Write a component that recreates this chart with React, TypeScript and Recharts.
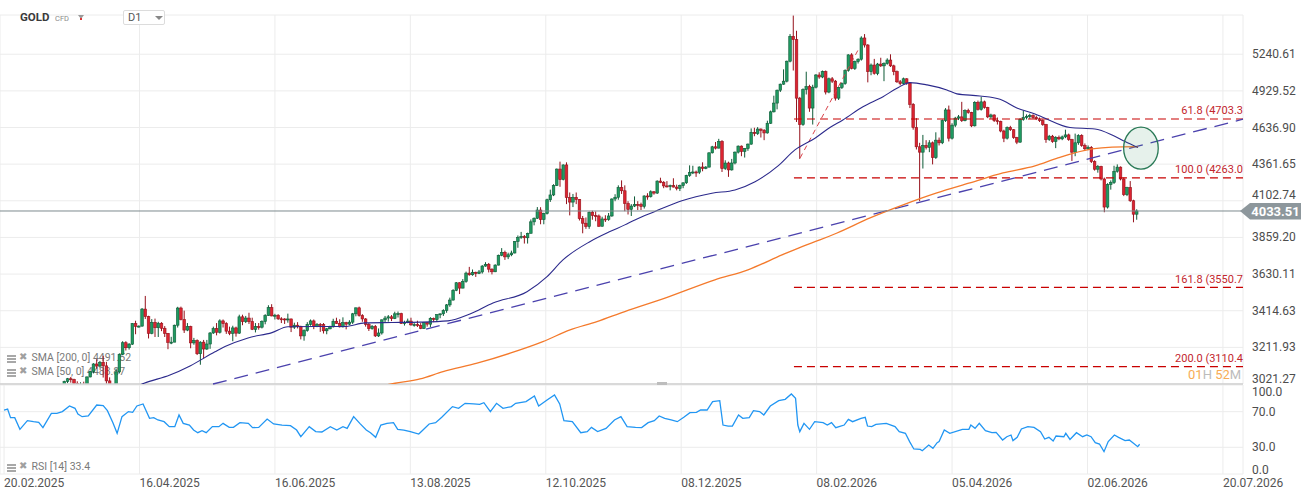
import React from "react";
import {
  ComposedChart, LineChart, Bar, Line, XAxis, YAxis, CartesianGrid,
  ReferenceLine, ReferenceDot,
} from "recharts";

// x axis = trading-day index (0 = 20.02.2025)
const X_DOMAIN: [number, number] = [-1.85, 381.8];
const dateTicks = [-0.6, 41.2, 83.0, 124.8, 166.6, 208.4, 250.2, 292.0, 333.8, 375.6];
const dateLabels = [
  "20.02.2025", "16.04.2025", "16.06.2025", "13.08.2025", "12.10.2025",
  "08.12.2025", "08.02.2026", "05.04.2026", "02.06.2026", "20.07.2026",
];

const priceTicks = [3021.27, 3211.93, 3414.63, 3630.11, 3859.2, 4102.74, 4361.65, 4636.9, 4929.52, 5240.61];
const PRICE_DOMAIN: [number, number] = [3021.27, 5595.5];
const rsiTicks = [0, 30, 70, 100];
const lastPrice = 4033.51;

const fibLevels = [4703.32, 4263.0, 3550.7, 3110.4];
const fibLabels = ["61.8 (4703.3", "100.0 (4263.0", "161.8 (3550.7", "200.0 (3110.4"];

// daily candles [open, high, low, close]
const ohlc: [number, number, number, number][] = [
  [2935,2955,2925,2940],[2940,2945,2920,2936],
  [2936,2956,2930,2952],[2952,2955,2890,2915],[2915,2930,2905,2916],[2916,2920,2870,2876],[2876,2880,2832,2858],
  [2858,2900,2855,2893],[2893,2928,2880,2918],[2918,2930,2895,2920],[2920,2925,2895,2911],[2911,2930,2896,2910],
  [2910,2915,2880,2889],[2889,2922,2880,2916],[2916,2940,2905,2934],[2934,2990,2930,2988],[2988,3005,2975,2984],
  [2984,3003,2980,3001],[3001,3038,2998,3034],[3034,3052,3026,3048],[3048,3057,3028,3044],[3044,3048,2999,3023],
  [3023,3035,3002,3010],[3010,3030,3005,3019],[3019,3033,3012,3018],[3018,3060,3015,3057],[3057,3087,3055,3085],
  [3085,3128,3075,3124],[3124,3149,3100,3113],[3113,3140,3105,3133],[3133,3167,3054,3114],[3114,3135,3015,3037],
  [3037,3055,2957,2982],[2982,3020,2970,2983],[2983,3100,2975,3083],[3083,3180,3075,3175],[3175,3245,3170,3237],
  [3237,3245,3195,3210],[3210,3235,3200,3229],[3229,3345,3225,3342],[3342,3358,3283,3326],[3326,3332,3320,3328],
  [3328,3430,3325,3424],[3424,3500,3368,3381],[3381,3386,3260,3288],[3288,3367,3283,3349],[3349,3370,3268,3319],
  [3319,3352,3268,3344],[3344,3350,3300,3316],[3316,3328,3268,3288],[3288,3290,3202,3239],[3239,3269,3229,3240],
  [3240,3336,3240,3333],[3333,3437,3320,3430],[3430,3438,3360,3365],[3365,3415,3290,3306],[3306,3345,3300,3325],
  [3325,3330,3207,3236],[3236,3263,3226,3249],[3249,3255,3171,3178],[3178,3245,3120,3240],[3240,3252,3154,3203],
  [3203,3252,3198,3230],[3230,3295,3204,3290],[3290,3325,3285,3314],[3314,3345,3277,3294],[3294,3366,3287,3357],
  [3357,3365,3320,3342],[3342,3350,3285,3300],[3300,3325,3278,3288],[3288,3330,3245,3318],[3318,3325,3270,3289],
  [3289,3392,3285,3380],[3380,3392,3333,3353],[3353,3385,3345,3373],[3373,3403,3340,3353],[3353,3375,3306,3310],
  [3310,3345,3293,3325],[3325,3345,3308,3322],[3322,3360,3315,3354],[3354,3395,3338,3387],[3387,3446,3385,3432],
  [3432,3452,3383,3385],[3385,3397,3365,3389],[3389,3395,3362,3369],[3369,3378,3345,3368],[3368,3372,3340,3366],
  [3366,3398,3347,3368],[3368,3370,3295,3322],[3322,3347,3312,3333],[3333,3350,3315,3327],[3327,3330,3255,3274],
  [3274,3310,3248,3303],[3303,3350,3297,3338],[3338,3365,3330,3357],[3357,3365,3311,3326],[3326,3345,3322,3337],
  [3337,3345,3296,3336],[3336,3345,3287,3302],[3302,3317,3283,3313],[3313,3330,3310,3324],[3324,3369,3320,3355],
  [3355,3375,3340,3343],[3343,3366,3320,3324],[3324,3377,3320,3347],[3347,3352,3310,3339],[3339,3361,3333,3350],
  [3350,3402,3340,3397],[3397,3433,3383,3431],[3431,3438,3381,3387],[3387,3395,3352,3368],[3368,3373,3325,3337],
  [3337,3345,3301,3314],[3314,3334,3308,3326],[3326,3334,3268,3274],[3274,3315,3268,3290],[3290,3365,3281,3363],
  [3363,3385,3346,3373],[3373,3390,3353,3380],[3380,3390,3356,3370],[3370,3409,3367,3397],[3397,3410,3376,3398],
  [3398,3403,3341,3342],[3342,3358,3331,3348],[3348,3370,3344,3356],[3356,3375,3330,3335],[3335,3345,3325,3336],
  [3336,3358,3323,3332],[3332,3345,3311,3315],[3315,3350,3312,3348],[3348,3351,3325,3339],[3339,3378,3322,3371],
  [3371,3376,3350,3365],[3365,3394,3352,3393],[3393,3398,3372,3397],[3397,3423,3385,3416],[3416,3453,3403,3448],
  [3448,3490,3437,3476],[3476,3540,3473,3533],[3533,3582,3528,3578],[3578,3580,3511,3546],[3546,3600,3545,3586],
  [3586,3645,3578,3636],[3636,3674,3620,3626],[3626,3658,3620,3641],[3641,3645,3613,3634],[3634,3655,3630,3643],
  [3643,3685,3633,3679],[3679,3703,3675,3690],[3690,3698,3640,3660],[3660,3665,3628,3644],[3644,3690,3642,3685],
  [3685,3750,3683,3746],[3746,3791,3740,3764],[3764,3775,3717,3736],[3736,3762,3722,3749],[3749,3775,3740,3760],
  [3760,3835,3758,3833],[3833,3872,3793,3859],[3859,3895,3850,3866],[3866,3875,3820,3857],[3857,3890,3820,3886],
  [3886,3977,3885,3961],[3961,3990,3938,3985],[3985,4060,3980,4040],[4040,4059,3945,3976],[3976,4022,3945,4017],
  [4017,4117,4010,4110],[4110,4180,4095,4143],[4143,4218,4135,4209],[4209,4330,4205,4326],[4326,4380,4200,4251],
  [4251,4360,4245,4356],[4356,4375,4080,4125],[4125,4160,4004,4094],[4094,4150,4060,4126],[4126,4160,4080,4112],
  [4112,4115,3970,3982],[3982,4000,3886,3952],[3952,3990,3915,3931],[3931,4030,3915,4025],[4025,4035,3975,4003],
  [4003,4030,3965,4000],[4000,4010,3928,3932],[3932,3995,3930,3980],[3980,4005,3960,3977],[3977,4020,3968,4000],
  [4000,4120,3995,4115],[4115,4148,4100,4127],[4127,4210,4110,4195],[4195,4245,4150,4172],[4172,4210,4032,4084],
  [4084,4100,4010,4045],[4045,4080,4000,4067],[4067,4133,4060,4078],[4078,4100,4040,4077],[4077,4090,4040,4065],
  [4065,4140,4050,4136],[4136,4155,4110,4131],[4131,4175,4125,4165],[4165,4170,4145,4156],[4156,4245,4150,4240],
  [4240,4264,4225,4231],[4231,4240,4190,4206],[4206,4240,4195,4204],[4204,4215,4175,4208],[4208,4260,4195,4198],
  [4198,4215,4175,4189],[4189,4215,4170,4208],[4208,4230,4190,4228],[4228,4285,4220,4280],[4280,4353,4270,4300],
  [4300,4350,4290,4305],[4305,4315,4270,4303],[4303,4345,4290,4341],[4341,4375,4310,4331],[4331,4348,4325,4340],
  [4340,4448,4338,4445],[4445,4497,4440,4490],[4490,4526,4470,4480],[4480,4550,4478,4530],
  [4530,4540,4305,4330],[4330,4390,4320,4370],[4370,4380,4270,4320],[4320,4400,4315,4370],
  [4370,4455,4360,4450],[4450,4500,4440,4495],[4495,4500,4420,4455],[4455,4480,4410,4478],[4478,4515,4460,4510],
  [4510,4630,4505,4600],[4600,4635,4570,4590],[4590,4640,4580,4625],[4625,4630,4560,4615],[4615,4625,4540,4595],
  [4595,4690,4590,4670],[4670,4770,4665,4760],[4760,4890,4755,4830],[4830,4940,4780,4935],[4935,4990,4920,4985],
  [4985,5110,4980,5010],[5010,5185,5000,5180],[5180,5420,5170,5400],[5400,5590,5100,5370],[5370,5450,4680,4870],
  [4870,4880,4400,4660],[4660,4950,4650,4940],[4940,5090,4900,4965],[4965,4980,4760,4790],[4790,4980,4660,4960],
  [4960,5070,4950,5062],[5062,5085,5030,5045],[5045,5100,5035,5090],[5090,5100,4900,4920],[4920,5040,4910,5030],
  [5030,5045,4995,5010],[5010,5020,4850,4870],[4870,4965,4855,4958],[4958,5000,4945,4990],[4990,5110,4980,5100],
  [5100,5240,5090,5235],[5235,5250,5110,5118],[5118,5185,5105,5177],[5177,5205,5160,5197],[5197,5400,5185,5385],
  [5385,5420,5300,5322],[5322,5330,5000,5090],[5090,5160,5060,5147],[5147,5200,5065,5075],[5075,5165,5060,5155],
  [5155,5210,5130,5140],[5140,5170,5010,5160],[5160,5205,5150,5190],[5190,5240,5130,5140],[5140,5150,5060,5090],
  [5090,5100,4995,5005],[5005,5020,4975,4990],[4990,5040,4985,5030],[5030,5035,4980,4995],[4995,5000,4790,4820],
  [4820,4830,4620,4637],[4637,4710,4470,4490],[4490,4520,4100,4450],[4450,4580,4330,4500],[4500,4540,4470,4485],
  [4485,4540,4450,4520],[4520,4530,4360,4410],[4410,4600,4400,4540],[4540,4560,4500,4520],[4520,4700,4510,4690],
  [4690,4790,4680,4775],[4775,4810,4530,4555],[4555,4670,4545,4655],[4655,4720,4640,4710],[4710,4735,4695,4720],
  [4720,4840,4680,4690],[4690,4780,4685,4770],[4770,4785,4745,4755],[4755,4760,4640,4650],[4650,4845,4645,4835],
  [4835,4850,4770,4780],[4780,4880,4770,4840],[4840,4850,4785,4795],[4795,4800,4710,4720],[4720,4745,4705,4735],
  [4735,4740,4680,4690],[4690,4715,4660,4685],[4685,4690,4600,4610],[4610,4620,4525,4555],[4555,4645,4545,4637],
  [4637,4650,4610,4620],[4620,4625,4550,4560],[4560,4565,4510,4525],[4525,4710,4520,4700],[4700,4770,4690,4715],
  [4715,4740,4700,4725],[4725,4745,4705,4730],[4730,4740,4705,4715],[4715,4730,4695,4705],[4705,4715,4680,4690],
  [4690,4700,4650,4660],[4660,4665,4520,4545],[4545,4580,4535,4570],[4570,4580,4520,4530],[4530,4570,4480,4560],
  [4560,4575,4540,4550],[4550,4575,4540,4565],[4565,4620,4555,4580],[4580,4590,4535,4545],[4545,4550,4385,4450],
  [4450,4590,4420,4520],[4520,4585,4505,4575],[4575,4585,4490,4500],[4500,4515,4465,4475],[4475,4500,4465,4485],
  [4485,4495,4370,4380],[4380,4390,4315,4325],[4325,4355,4300,4345],[4345,4350,4245,4255],[4255,4265,4025,4060],
  [4060,4225,4050,4215],[4215,4245,4180,4230],[4230,4350,4220,4310],[4310,4360,4300,4340],[4340,4345,4245,4255],
  [4255,4265,4135,4145],[4145,4200,4135,4195],[4195,4240,4095,4103],[4103,4110,3958,4012],[4012,4045,3975,4033.51],
];

// moving averages (bar index, value)
const sma50Idx = [34.9, 42.6, 50.6, 56.8, 64.5, 67.6, 74.7, 82.1, 87.0, 95.4, 104.6, 110.8, 119.1, 127.8, 136.4, 143.2, 150.3, 160.8, 167.0, 171.9, 180.2, 186.4, 191.0, 194.1, 200.3, 208.6, 217.9, 225.0, 231.2, 238.3, 243.5, 249.7, 254.3, 258.3, 264.5, 270.7, 275.0, 279.0, 284.3, 290.4, 293.5, 300.6, 306.8, 312.0, 317.6, 320.7, 328.4, 336.1, 341.4, 345.4, 349.4];
const sma50Val = [2966, 3025, 3067, 3114, 3188, 3216, 3263, 3292, 3324, 3326, 3326, 3346, 3348, 3350, 3357, 3396, 3459, 3525, 3615, 3717, 3832, 3897, 3941, 3974, 4030, 4103, 4155, 4178, 4236, 4349, 4467, 4555, 4637, 4696, 4801, 4882, 4951, 4998, 4979, 4937, 4905, 4888, 4861, 4791, 4743, 4709, 4637, 4626, 4580, 4529, 4483.87];
const sma200Idx = [100, 120.1, 127.8, 134.9, 145.4, 155.6, 165.7, 174.1, 182.4, 191.0, 203.4, 218.8, 229.0, 239.5, 245.7, 251.2, 256.5, 266.7, 276.9, 287.3, 297.5, 307.7, 317.6, 324.7, 335.2, 341.4, 349.4];
const sma200Val = [2965, 3025, 3047, 3084, 3128, 3181, 3243, 3307, 3353, 3410, 3487, 3595, 3656, 3748, 3801, 3843, 3888, 3987, 4075, 4157, 4227, 4298, 4349, 4407, 4474, 4488, 4491.52];

// RSI(14)
const rsiIdx = [-0.6, 0.5, 1.4, 2.7, 4.3, 6.6, 8.5, 10.1, 11.4, 14.0, 15.7, 17.4, 19.6, 21.3, 22.2, 23.5, 25.4, 28.0, 30.0, 31.3, 33.0, 34.3, 35.8, 37.8, 39.1, 40.4, 42.3, 44.3, 45.6, 46.9, 48.8, 50.4, 52.1, 53.4, 54.7, 56.6, 57.9, 59.2, 60.5, 61.8, 63.7, 65.7, 67.0, 68.9, 70.2, 72.2, 74.8, 76.1, 78.0, 80.6, 82.6, 85.2, 87.8, 89.7, 91.0, 93.6, 95.6, 97.5, 100.1, 102.1, 104.0, 105.3, 107.3, 109.2, 111.2, 112.5, 114.1, 115.7, 117.6, 119.6, 120.9, 122.8, 124.8, 127.4, 128.7, 130.6, 132.6, 134.5, 137.8, 139.7, 141.7, 144.3, 146.2, 147.5, 149.5, 151.4, 153.4, 156.0, 157.3, 160.5, 163.1, 164.4, 167.0, 169.3, 170.9, 172.2, 174.8, 177.4, 179.4, 180.7, 182.6, 185.2, 187.8, 189.8, 191.7, 194.3, 196.2, 198.2, 200.1, 201.6, 203.3, 205.3, 207.2, 209.2, 211.1, 213.1, 214.4, 216.4, 218.1, 220.3, 221.3, 222.9, 224.2, 226.1, 227.4, 229.4, 230.7, 232.6, 233.9, 235.9, 238.5, 240.5, 242.4, 243.7, 244.4, 245.0, 246.3, 248.0, 249.6, 252.2, 253.5, 254.8, 256.1, 258.7, 260.0, 261.3, 263.9, 265.2, 265.9, 267.2, 268.5, 271.7, 274.4, 275.7, 277.6, 278.9, 280.2, 282.2, 282.8, 284.8, 286.1, 287.4, 288.0, 289.6, 291.3, 295.2, 297.2, 297.8, 299.1, 300.4, 302.3, 304.3, 305.6, 307.6, 308.9, 310.2, 310.8, 312.1, 313.4, 315.4, 317.3, 319.3, 320.6, 321.9, 323.2, 324.1, 326.5, 327.1, 328.4, 330.4, 332.3, 333.6, 334.9, 336.2, 337.5, 338.9, 340.2, 342.1, 343.4, 345.4, 346.7, 348.0, 349.3, 349.9];
const rsiVal = [71.9, 73.0, 63.3, 63.3, 50.2, 60.0, 58.8, 58.1, 52.1, 68.2, 68.2, 70.1, 76.4, 73.8, 67.4, 64.4, 65.2, 77.5, 76.8, 71.2, 57.7, 45.7, 64.4, 70.1, 69.3, 76.4, 78.7, 62.5, 63.3, 60.7, 58.8, 53.2, 53.2, 66.3, 56.9, 55.0, 49.4, 46.4, 48.7, 46.4, 53.2, 53.2, 56.9, 52.4, 52.4, 57.7, 56.9, 52.1, 52.4, 61.8, 56.2, 55.0, 54.3, 49.4, 41.9, 53.2, 47.6, 47.2, 53.2, 49.4, 53.2, 51.3, 64.4, 56.9, 49.4, 46.4, 41.2, 55.0, 56.9, 57.7, 50.2, 49.4, 47.6, 44.9, 49.4, 56.2, 57.7, 63.7, 75.7, 73.8, 79.4, 78.7, 78.3, 80.1, 70.1, 79.4, 73.8, 75.7, 79.4, 81.3, 87.6, 76.4, 83.1, 88.8, 78.7, 60.0, 58.8, 46.4, 47.6, 52.4, 47.6, 51.3, 60.7, 64.4, 53.2, 52.4, 52.1, 57.7, 60.0, 65.2, 62.5, 60.7, 58.8, 63.7, 68.9, 69.3, 71.9, 71.9, 81.3, 82.4, 55.0, 53.9, 53.9, 66.3, 62.5, 63.3, 71.2, 70.1, 66.3, 76.4, 82.4, 83.9, 89.9, 85.0, 55.0, 47.6, 56.9, 50.2, 58.8, 57.7, 55.0, 57.7, 52.1, 55.0, 61.4, 58.8, 62.5, 63.7, 53.9, 53.2, 55.8, 56.9, 53.2, 47.6, 45.7, 36.4, 28.1, 27.7, 26.2, 32.6, 28.9, 35.2, 36.4, 49.4, 45.7, 50.2, 50.2, 55.0, 51.3, 56.9, 48.7, 46.4, 46.8, 38.2, 41.9, 43.8, 37.5, 41.2, 50.6, 53.2, 52.4, 47.6, 39.3, 41.2, 37.1, 42.7, 41.9, 45.7, 38.9, 46.4, 41.9, 43.8, 41.9, 35.2, 33.7, 25.1, 36.4, 43.8, 41.2, 37.5, 38.2, 34.5, 30.7, 33.4];

// drawings on the chart
const trendLine = [{ x: 63.9, y: 3021.27 }, { x: 381.8, y: 4702 }];
const fibDiagonal = [{ x: 245.1, y: 4407 }, { x: 263, y: 5278 }];
const fibStart = 243.2;
const circleAt = { x: 350.3, y: 4480 };

const candles = ohlc.map(([o, h, l, c], i) => ({ i, o, h, l, c, hl: [l, h] }));
const sma50 = sma50Idx.map((i, k) => ({ i, v: sma50Val[k] }));
const sma200 = sma200Idx.map((i, k) => ({ i, v: sma200Val[k] }));
const rsi = rsiIdx.map((i, k) => ({ i, v: rsiVal[k] }));

const FONT = "Roboto, 'Noto Sans', sans-serif";
const GRID = "#ececec";

function Candle(props: any) {
  const { x, y, width, height, payload } = props;
  if (!payload || !isFinite(y) || !isFinite(height)) return null;
  const top = Math.min(y, y + height);
  const bottom = Math.max(y, y + height);
  const { o, h, l, c } = payload;
  const span = Math.log(h) - Math.log(l);
  const toY = (v: number) => (span > 0 ? top + ((bottom - top) * (Math.log(h) - Math.log(v))) / span : top);
  const up = c >= o;
  const cx = x + width / 2;
  const yo = toY(o);
  const yc = toY(c);
  const bTop = Math.min(yo, yc);
  const bH = Math.max(1, Math.abs(yc - yo));
  const fill = up ? "#1f9a61" : "#dc2431";
  const edge = up ? "#0d5a36" : "#95111b";
  return (
    <g>
      <line x1={cx} x2={cx} y1={top} y2={bottom} stroke={edge} strokeWidth={1} />
      <rect x={cx - 1.3} y={bTop} width={2.6} height={bH} fill={fill} stroke={edge} strokeWidth={0.6} />
    </g>
  );
}

function PriceTick(props: any) {
  const { x, y, payload } = props;
  let shift = 0;
  if (payload.value === priceTicks[0]) shift = -5;
  // the tick right above the last-price tag is nudged up so the tag doesn't cover it
  else if (payload.value > lastPrice && payload.value < lastPrice * 1.03) shift = -6;
  return (
    <text x={x + 9} y={y + 4 + shift} fill="#4d4d4d" fontSize={12} fontFamily={FONT}>
      {payload.value.toFixed(2)}
    </text>
  );
}

function RsiTick(props: any) {
  const { x, y, payload } = props;
  const shift = payload.value === 100 ? 7 : payload.value === 0 ? -4 : 0;
  return (
    <text x={x + 9} y={y + 4 + shift} fill="#4d4d4d" fontSize={12} fontFamily={FONT}>
      {payload.value.toFixed(1)}
    </text>
  );
}

function DateTick(props: any) {
  const { x, y, payload } = props;
  const k = dateTicks.indexOf(payload.value);
  return (
    <text x={x} y={y + 13} fill="#555" fontSize={12} fontFamily={FONT}>
      {dateLabels[k] ?? ""}
    </text>
  );
}

function PriceTag(props: any) {
  const vb = props.viewBox;
  if (!vb) return null;
  const tip = vb.x + vb.width - 3;
  const y = vb.y;
  const pts = `${tip},${y} ${tip + 10},${y - 8} ${tip + 61},${y - 8} ${tip + 61},${y + 8.5} ${tip + 10},${y + 8.5}`;
  return (
    <g>
      <polygon points={pts} fill="#8d979c" />
      <text x={tip + 35.5} y={y + 4.6} textAnchor="middle" fill="#fff" fontSize={13} fontWeight={700} fontFamily={FONT}>
        {lastPrice.toFixed(2)}
      </text>
    </g>
  );
}

function fibLabel(text: string) {
  return (props: any) => {
    const vb = props.viewBox;
    if (!vb) return null;
    return (
      <text x={vb.x + vb.width} y={vb.y - 4.5} textAnchor="end" fill="#c3262d" fontSize={11} fontFamily={FONT}>
        {text}
      </text>
    );
  };
}

function LegendRow({ top, text }: { top: number; text: string }) {
  return (
    <div style={{ position: "absolute", left: 0, top: top - 7, height: 14, width: 200 }}>
      <div style={{ position: "absolute", left: 7, top: 3, width: 9, height: 2, background: "#a8a8a8" }} />
      <div style={{ position: "absolute", left: 7, top: 6, width: 9, height: 2, background: "#a8a8a8" }} />
      <div style={{ position: "absolute", left: 7, top: 9, width: 9, height: 2, background: "#a8a8a8" }} />
      <div style={{ position: "absolute", left: 19, top: -1, fontSize: 10, color: "#a0a0a0", fontFamily: "DejaVu Sans" }}>✖</div>
      <div style={{ position: "absolute", left: 31.5, top: -1, fontSize: 10.5, color: "#7a7a7a", whiteSpace: "nowrap" }}>{text}</div>
    </div>
  );
}

export default function App() {
  return (
    <div style={{ position: "fixed", left: 0, top: 0, width: 1312, height: 501, background: "#fff", fontFamily: FONT, overflow: "hidden" }}>
      <LegendRow top={359} text="SMA [200, 0] 4491.52" />
      <LegendRow top={373} text="SMA [50, 0] 4483.87" />
      <LegendRow top={467.5} text="RSI [14] 33.4" />
      {/* bar countdown, just under the 200.0 fib label */}
      <div style={{ position: "absolute", left: 1188, top: 368, fontSize: 13, lineHeight: "13px", whiteSpace: "nowrap", opacity: 0.9 }}>
        <span style={{ color: "#f7a443" }}>01</span>
        <span style={{ color: "#b5b5b5" }}>H </span>
        <span style={{ color: "#f7a443" }}>52</span>
        <span style={{ color: "#b5b5b5" }}>M</span>
      </div>

      <div style={{ position: "absolute", left: 0, top: 0 }}>
        <ComposedChart width={1312} height={385} data={candles} margin={{ top: 15, right: 0, bottom: 1, left: 0 }}>
          <CartesianGrid stroke={GRID} strokeWidth={1} />
          <XAxis type="number" dataKey="i" domain={X_DOMAIN} ticks={dateTicks} hide allowDataOverflow />
          <YAxis
            orientation="right" scale="log" type="number" domain={PRICE_DOMAIN} ticks={priceTicks}
            allowDataOverflow width={69} axisLine={false} tickLine={false} tickSize={0} tickMargin={0}
            tick={PriceTick} interval={0}
          />
          <ReferenceLine y={PRICE_DOMAIN[0]} stroke="#cfcfcf" strokeWidth={1.5} />
          {fibLevels.map((lv, k) => (
            <ReferenceLine
              key={lv}
              segment={[{ x: fibStart, y: lv }, { x: X_DOMAIN[1], y: lv }]}
              stroke="#c80000" strokeWidth={1.2} strokeDasharray="8 5" ifOverflow="visible"
              label={fibLabel(fibLabels[k])}
            />
          ))}
          <ReferenceLine segment={fibDiagonal} stroke="#d9434a" strokeWidth={1} strokeDasharray="5 4" ifOverflow="visible" />
          <ReferenceLine segment={trendLine} stroke="#4b42ad" strokeWidth={1.3} strokeDasharray="14 8" ifOverflow="visible" />
          <Line data={sma200} dataKey="v" type="monotone" stroke="#f47a2c" strokeWidth={1.3} dot={false} isAnimationActive={false} />
          <Line data={sma50} dataKey="v" type="monotone" stroke="#2c2a8c" strokeWidth={1.1} dot={false} isAnimationActive={false} />
          <Bar dataKey="hl" barSize={3} shape={Candle} isAnimationActive={false} />
          <ReferenceLine y={lastPrice} stroke="#7d8a8f" strokeWidth={1} label={(p: any) => <PriceTag {...p} />} />
          <ReferenceDot
            x={circleAt.x} y={circleAt.y} ifOverflow="visible"
            shape={(p: any) => (
              <ellipse cx={p.cx} cy={p.cy} rx={17.3} ry={21} fill="rgba(46,139,87,0.12)" stroke="#2a7a57" strokeWidth={1.3} />
            )}
          />
        </ComposedChart>
      </div>

      <div style={{ position: "absolute", left: 0, top: 385 }}>
        <LineChart width={1312} height={116} data={rsi} margin={{ top: 0, right: 0, bottom: 0, left: 0 }}>
          <CartesianGrid stroke={GRID} strokeWidth={1} />
          <XAxis
            type="number" dataKey="i" domain={X_DOMAIN} ticks={dateTicks} allowDataOverflow interval={0}
            height={27} axisLine={false} tickLine={false} tickSize={0} tickMargin={0} tick={DateTick}
          />
          <YAxis
            orientation="right" type="number" domain={[0, 100]} ticks={rsiTicks} width={69}
            axisLine={false} tickLine={false} tickSize={0} tickMargin={0} tick={RsiTick} interval={0}
          />
          <Line dataKey="v" type="linear" stroke="#2196f3" strokeWidth={1.3} dot={false} isAnimationActive={false} />
        </LineChart>
      </div>

      <div style={{ position: "absolute", left: 657, top: 382, width: 10, height: 3, background: "#bdbdbd" }} />

      {/* header */}
      <div style={{ position: "absolute", left: 20, top: 10, fontSize: 11.5, fontWeight: 700, color: "#3a3a3a" }}>GOLD</div>
      <div style={{ position: "absolute", left: 55, top: 14, fontSize: 7.5, color: "#8a8a8a" }}>CFD</div>
      <div style={{ position: "absolute", left: 78, top: 15, width: 0, height: 0, borderLeft: "3.5px solid transparent", borderRight: "3.5px solid transparent", borderTop: "4px solid #9a9a9a" }} />
      <div style={{ position: "absolute", left: 80, top: 18, width: 1.5, height: 1.5, background: "#d33" }} />
      <div style={{ position: "absolute", left: 123, top: 10, width: 42, height: 15, border: "1px solid #dcdcdc", borderRadius: 2, background: "#fff", boxSizing: "border-box" }}>
        <div style={{ position: "absolute", left: 4, top: 0, fontSize: 11, color: "#555", lineHeight: "13px" }}>D1</div>
        <div style={{ position: "absolute", left: 31, top: 5, width: 0, height: 0, borderLeft: "4px solid transparent", borderRight: "4px solid transparent", borderTop: "4px solid #888" }} />
      </div>
    </div>
  );
}
